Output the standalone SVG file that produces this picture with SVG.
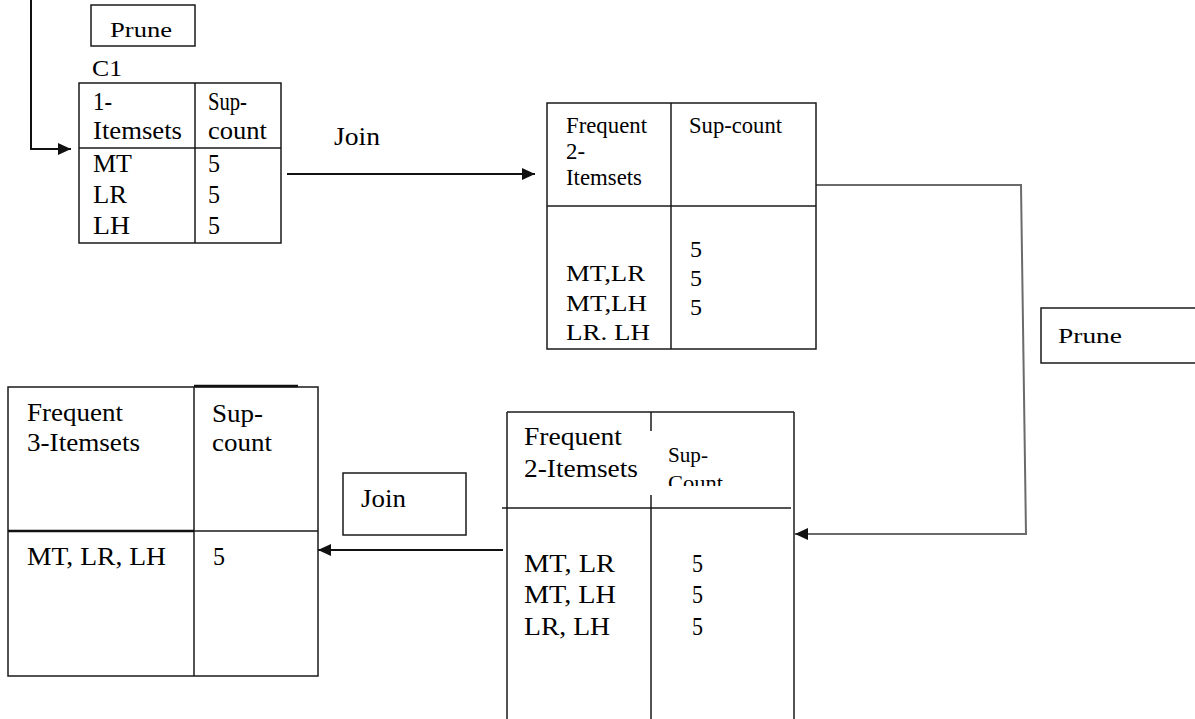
<svg xmlns="http://www.w3.org/2000/svg" width="1195" height="719" viewBox="0 0 1195 719">
<style>
text{font-family:"Liberation Serif","Times New Roman",serif;fill:#000;}
.f20{font-size:21px}.f21{font-size:22px}.f22{font-size:23px}.f24{font-size:25px}.f25{font-size:26px}
.b{fill:none;stroke:#1a1a1a;stroke-width:1.5}
.c{fill:none;stroke:#111;stroke-width:2}
.g{fill:none;stroke:#6a6a6a;stroke-width:2}
</style>
<defs>
<marker id="ah" viewBox="0 0 13 12" refX="13" refY="6" markerWidth="13" markerHeight="12" markerUnits="userSpaceOnUse" orient="auto"><path d="M0,0 L13,6 L0,12 z" fill="#111"/></marker>
<clipPath id="clipCount"><rect x="660" y="440" width="120" height="46"/></clipPath>
</defs>
<rect width="1195" height="719" fill="#fff"/>

<g id="connectors">
<path class="c" d="M31,0 V149 H71" marker-end="url(#ah)"/>
<path class="c" d="M287,174 H535" marker-end="url(#ah)"/>
<path class="g" d="M816,185 H1021 L1026,535"/>
<path class="g" d="M1025,534 H795" marker-end="url(#ah)"/>
<path class="c" d="M503,550 H318" marker-end="url(#ah)"/>
</g>

<g id="prune-top">
<rect class="b" x="91" y="5" width="104" height="41"/>
<text class="f20" x="110" y="37" textLength="62" lengthAdjust="spacingAndGlyphs">Prune</text>
</g>

<g id="c1-label">
<text class="f22" x="92" y="76" textLength="30" lengthAdjust="spacingAndGlyphs">C1</text>
</g>

<g id="table-c1">
<rect class="b" x="79" y="83" width="202" height="160"/>
<line class="b" x1="195" y1="83" x2="195" y2="243"/>
<line class="b" x1="79" y1="148" x2="281" y2="148"/>
<text class="f24" x="93" y="110" textLength="19" lengthAdjust="spacingAndGlyphs">1-</text>
<text class="f24" x="93" y="139" textLength="89" lengthAdjust="spacingAndGlyphs">Itemsets</text>
<text class="f24" x="208" y="110" textLength="39" lengthAdjust="spacingAndGlyphs">Sup-</text>
<text class="f24" x="208" y="139" textLength="59" lengthAdjust="spacingAndGlyphs">count</text>
<text class="f24" x="93" y="172" textLength="39" lengthAdjust="spacingAndGlyphs">MT</text>
<text class="f24" x="93" y="203" textLength="34" lengthAdjust="spacingAndGlyphs">LR</text>
<text class="f24" x="93" y="234" textLength="37" lengthAdjust="spacingAndGlyphs">LH</text>
<text class="f24" x="208" y="172" textLength="12" lengthAdjust="spacingAndGlyphs">5</text>
<text class="f24" x="208" y="203" textLength="12" lengthAdjust="spacingAndGlyphs">5</text>
<text class="f24" x="208" y="234" textLength="12" lengthAdjust="spacingAndGlyphs">5</text>
</g>

<g id="join-top">
<text class="f24" x="334" y="145" textLength="46" lengthAdjust="spacingAndGlyphs">Join</text>
</g>

<g id="table-l2a">
<rect class="b" x="547" y="103" width="269" height="246"/>
<line class="b" x1="671" y1="103" x2="671" y2="349"/>
<line class="b" x1="547" y1="206" x2="816" y2="206"/>
<text class="f22" x="566" y="133" textLength="81" lengthAdjust="spacingAndGlyphs">Frequent</text>
<text class="f22" x="566" y="159" textLength="19" lengthAdjust="spacingAndGlyphs">2-</text>
<text class="f22" x="566" y="185" textLength="76" lengthAdjust="spacingAndGlyphs">Itemsets</text>
<text class="f22" x="689" y="133" textLength="93" lengthAdjust="spacingAndGlyphs">Sup-count</text>
<text class="f22" x="566" y="281" textLength="79" lengthAdjust="spacingAndGlyphs">MT,LR</text>
<text class="f22" x="566" y="311" textLength="81" lengthAdjust="spacingAndGlyphs">MT,LH</text>
<text class="f22" x="566" y="340" textLength="84" lengthAdjust="spacingAndGlyphs">LR. LH</text>
<text class="f22" x="690" y="257" textLength="12" lengthAdjust="spacingAndGlyphs">5</text>
<text class="f22" x="690" y="286" textLength="12" lengthAdjust="spacingAndGlyphs">5</text>
<text class="f22" x="690" y="315" textLength="12" lengthAdjust="spacingAndGlyphs">5</text>
</g>

<g id="prune-right">
<rect class="b" x="1041" y="308" width="160" height="55"/>
<text class="f20" x="1058" y="343" textLength="64" lengthAdjust="spacingAndGlyphs">Prune</text>
</g>

<g id="table-l2b">
<line class="b" x1="507" y1="412" x2="794" y2="412"/>
<line class="b" x1="507" y1="412" x2="507" y2="719"/>
<line class="b" x1="794" y1="412" x2="794" y2="719"/>
<line class="b" x1="651" y1="412" x2="651" y2="431"/>
<line class="b" x1="651" y1="495" x2="651" y2="719"/>
<line class="b" x1="502" y1="508" x2="791" y2="508"/>
<text class="f25" x="524" y="445" textLength="98" lengthAdjust="spacingAndGlyphs">Frequent</text>
<text class="f25" x="524" y="477" textLength="114" lengthAdjust="spacingAndGlyphs">2-Itemsets</text>
<text class="f21" x="668" y="462" textLength="40" lengthAdjust="spacingAndGlyphs">Sup-</text>
<text class="f21" x="668" y="490" textLength="55" lengthAdjust="spacingAndGlyphs" clip-path="url(#clipCount)">Count</text>
<text class="f25" x="524" y="572" textLength="91" lengthAdjust="spacingAndGlyphs">MT, LR</text>
<text class="f25" x="524" y="603" textLength="92" lengthAdjust="spacingAndGlyphs">MT, LH</text>
<text class="f25" x="524" y="635" textLength="86" lengthAdjust="spacingAndGlyphs">LR, LH</text>
<text class="f25" x="692" y="572" textLength="11" lengthAdjust="spacingAndGlyphs">5</text>
<text class="f25" x="692" y="603" textLength="11" lengthAdjust="spacingAndGlyphs">5</text>
<text class="f25" x="692" y="635" textLength="11" lengthAdjust="spacingAndGlyphs">5</text>
</g>

<g id="join-bottom">
<rect class="b" x="343" y="473" width="123" height="62"/>
<text class="f24" x="361" y="507" textLength="45" lengthAdjust="spacingAndGlyphs">Join</text>
</g>

<g id="table-l3">
<rect class="b" x="8" y="387" width="310" height="289"/>
<line x1="194" y1="386" x2="298" y2="386" stroke="#111" stroke-width="2.5"/>
<line class="b" x1="194" y1="387" x2="194" y2="676"/>
<line x1="8" y1="531" x2="194" y2="531" stroke="#111" stroke-width="2.5"/>
<line class="b" x1="194" y1="531" x2="318" y2="531"/>
<text class="f24" x="27" y="421" textLength="96" lengthAdjust="spacingAndGlyphs">Frequent</text>
<text class="f24" x="27" y="451" textLength="113" lengthAdjust="spacingAndGlyphs">3-Itemsets</text>
<text class="f24" x="212" y="422" textLength="51" lengthAdjust="spacingAndGlyphs">Sup-</text>
<text class="f24" x="212" y="451" textLength="60" lengthAdjust="spacingAndGlyphs">count</text>
<text class="f24" x="27" y="565" textLength="139" lengthAdjust="spacingAndGlyphs">MT, LR, LH</text>
<text class="f24" x="213" y="565" textLength="12" lengthAdjust="spacingAndGlyphs">5</text>
</g>
</svg>
